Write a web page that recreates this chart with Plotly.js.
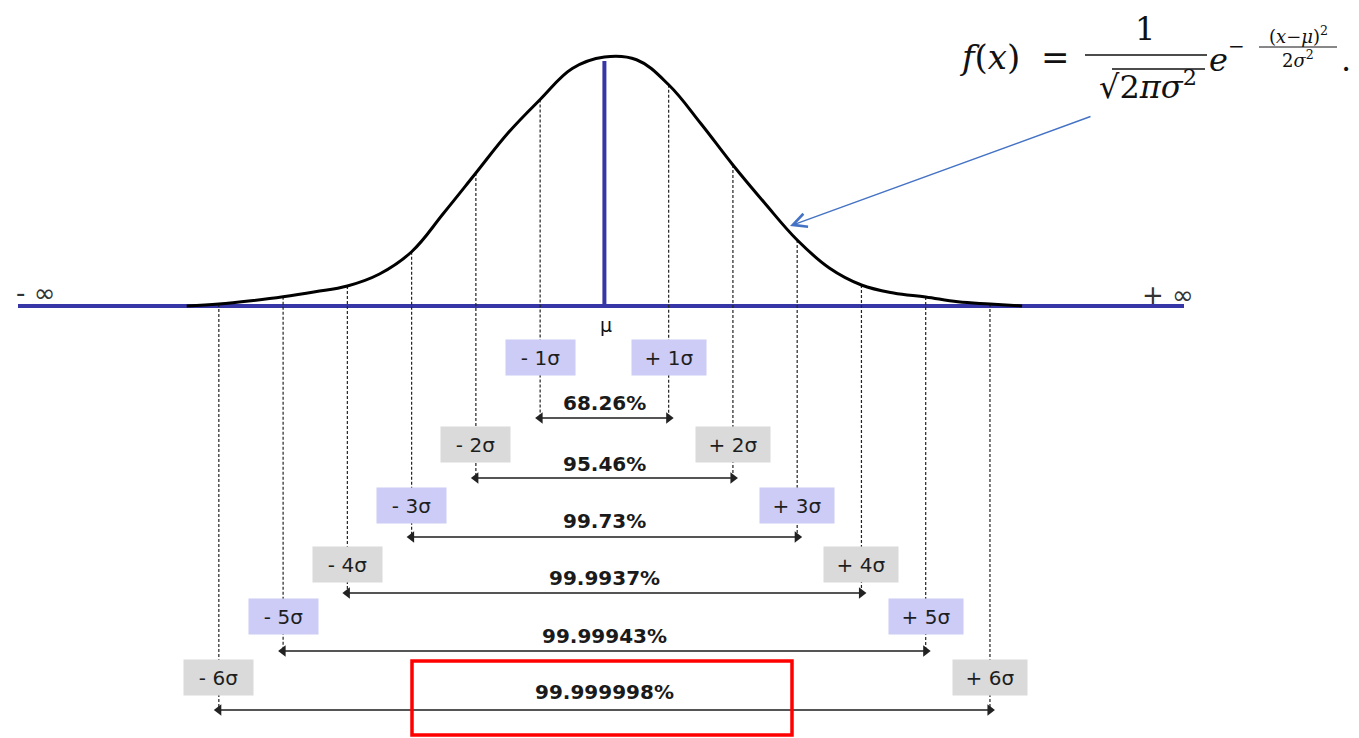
<!DOCTYPE html>
<html>
<head>
<meta charset="utf-8">
<script src="https://cdn.plot.ly/plotly-3.0.1.min.js"></script>
<style>
  html, body { margin: 0; padding: 0; background: #fff; }
  #chart { width: 1359px; height: 738px; }
</style>
</head>
<body>
<div id="chart"></div>
<script>
// bell curve (x in sigma, height relative to the peak)
var curveX = [-6.5, -6, -5.5, -5, -4.5, -4, -3.5, -3, -2.5, -2, -1.5, -1, -0.5, 0, 0.5, 1, 1.5, 2, 2.5, 3, 3.5, 4, 4.5, 5, 5.5, 6, 6.5];
var curveY = [0, 0.008, 0.021, 0.037, 0.057, 0.08, 0.128, 0.217, 0.372, 0.532, 0.692, 0.826, 0.95, 0.996, 0.985, 0.885, 0.73, 0.564, 0.41, 0.264, 0.152, 0.084, 0.052, 0.036, 0.017, 0.008, 0];

// the sigma bands
var sigmas = [1, 2, 3, 4, 5, 6];
var coverage = ["68.26%", "95.46%", "99.73%", "99.9937%", "99.99943%", "99.999998%"];

var W = 1359, H = 738;
var X0 = 604.4, SX = 64.26;   // px of mu, px per sigma
var Y0 = 306, SY = 250;       // px of baseline, px per unit height
function xs(px) { return (px - X0) / SX; }
function yh(py) { return (Y0 - py) / SY; }
function px(x) { return x / W; }
function py(y) { return 1 - y / H; }

var blue = "#3636a6";
var boxRow = [357, 444, 505, 564, 616, 677];
var pctRow = [403, 464, 521, 578, 636, 692];
var arrowRow = [418, 478, 537, 593, 651, 710];

function heightAt(s) { return curveY[curveX.indexOf(s)]; }

// dashed drop lines from the curve down to each band arrow
var dx = [], dy = [];
sigmas.forEach(function (k, i) {
  [-k, k].forEach(function (s) {
    dx.push(s, s, null);
    dy.push(heightAt(s), yh(arrowRow[i]), null);
  });
});

var traces = [];
traces.push({
  x: dx, y: dy, mode: "lines", hoverinfo: "skip",
  line: {color: "#222", width: 1.2, dash: "3px,2px"}
});

// band arrows
sigmas.forEach(function (k, i) {
  traces.push({
    x: [-k, k], y: [yh(arrowRow[i]), yh(arrowRow[i])],
    mode: "lines+markers", hoverinfo: "skip",
    line: {color: "#555", width: 1.8},
    marker: {symbol: ["triangle-left", "triangle-right"], size: 10, color: "#222"}
  });
});

// mean line
traces.push({
  x: [0, 0], y: [0, heightAt(0) - 0.016], mode: "lines", hoverinfo: "skip",
  line: {color: blue, width: 4}
});

// curve
traces.push({
  x: curveX, y: curveY, mode: "lines", hoverinfo: "skip",
  line: {color: "#000", width: 3, shape: "spline", smoothing: 1.1}
});

var ann = [];
var boxFont = {family: "DejaVu Sans, Arial, sans-serif", size: 20, color: "#1e1e1e"};
sigmas.forEach(function (k, i) {
  var bg = (k % 2 === 1) ? "#ccccf6" : "#dadada";
  ann.push({x: -k, y: yh(boxRow[i]), xref: "x", yref: "y", text: "- " + k + "σ", showarrow: false,
    bgcolor: bg, width: 69, height: 35, borderpad: 0, font: boxFont});
  ann.push({x: k, y: yh(boxRow[i]), xref: "x", yref: "y", text: "+ " + k + "σ", showarrow: false,
    bgcolor: bg, width: 74, height: 35, borderpad: 0, font: boxFont});
  ann.push({x: 0, y: yh(pctRow[i]), xref: "x", yref: "y", text: "<b>" + coverage[i] + "</b>", showarrow: false,
    font: {family: "DejaVu Sans, Arial, sans-serif", size: 20, color: "#1a1a1a"}});
});

function label(x, y, t, font) {
  ann.push({x: px(x), y: py(y), xref: "paper", yref: "paper", xanchor: "center", yanchor: "middle",
    text: t, showarrow: false, font: font});
}
label(35, 293, "- ∞", {family: "DejaVu Sans, sans-serif", size: 26, color: "#333"});
label(1168, 295, "+ ∞", {family: "DejaVu Sans, sans-serif", size: 26, color: "#333"});
label(606, 325, "μ", {family: "DejaVu Sans, sans-serif", size: 19, color: "#111"});

// formula pieces
var serif = "DejaVu Serif, Liberation Serif, serif";
function fpiece(x, y, t, size) {
  label(x, y, t, {family: serif, size: size, color: "#111"});
}
fpiece(990, 57, "<i>f</i>(<i>x</i>)", 34);
fpiece(1055, 57, "=", 34);
fpiece(1145, 29, "1", 32);
fpiece(1148, 85, "√2<i>πσ</i><sup>2</sup>", 32);
fpiece(1218, 60, "<i>e</i>", 32);
fpiece(1236, 46, "−", 20);
fpiece(1298, 35, "(<i>x</i>−<i>μ</i>)<sup>2</sup>", 18);
fpiece(1298, 59, "2<i>σ</i><sup>2</sup>", 18);
fpiece(1346, 60, ".", 32);

// arrow pointing at the curve
ann.push({x: px(790), y: py(226), xref: "paper", yref: "paper", text: "", showarrow: true,
  ax: 1092 - 790, ay: 116 - 226, arrowcolor: "#4472c4", arrowwidth: 1.5, arrowhead: 5, arrowsize: 1.8});

var shapes = [
  {type: "line", xref: "paper", yref: "y", x0: px(18), x1: px(1184), y0: 0, y1: 0,
    line: {color: blue, width: 4}, layer: "below"},
  {type: "line", xref: "paper", yref: "paper", x0: px(1085), x1: px(1207), y0: py(55), y1: py(55),
    line: {color: "#111", width: 1.5}},
  {type: "line", xref: "paper", yref: "paper", x0: px(1112), x1: px(1205), y0: py(69), y1: py(69),
    line: {color: "#111", width: 1.5}},
  {type: "line", xref: "paper", yref: "paper", x0: px(1259), x1: px(1337), y0: py(47), y1: py(47),
    line: {color: "#111", width: 1}},
  {type: "rect", xref: "paper", yref: "paper", x0: px(412), x1: px(792), y0: py(661), y1: py(735),
    line: {color: "#ff0000", width: 3.5}}
];

var layout = {
  width: W, height: H,
  margin: {l: 0, r: 0, t: 0, b: 0},
  paper_bgcolor: "#fff", plot_bgcolor: "#fff",
  showlegend: false,
  xaxis: {range: [xs(0), xs(W)], visible: false, fixedrange: true},
  yaxis: {range: [yh(H), yh(0)], visible: false, fixedrange: true},
  annotations: ann,
  shapes: shapes
};

Plotly.newPlot("chart", traces, layout, {staticPlot: true});
</script>
</body>
</html>
